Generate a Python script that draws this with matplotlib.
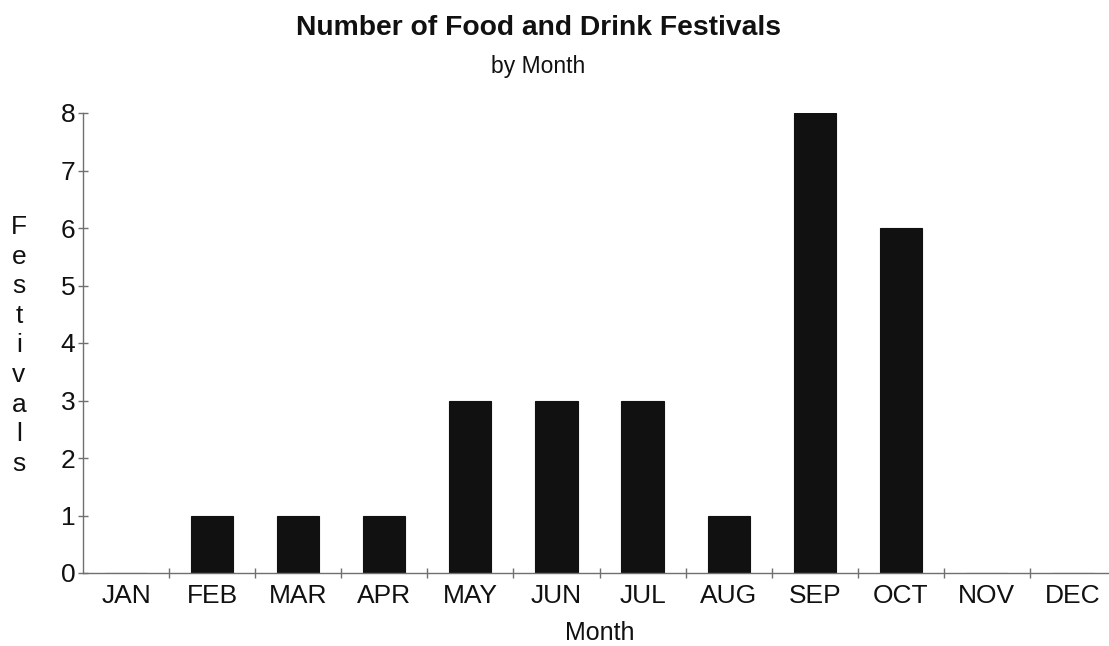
import matplotlib
matplotlib.use("Agg")
import matplotlib.pyplot as plt
import numpy as np

months = ["JAN", "FEB", "MAR", "APR", "MAY", "JUN",
          "JUL", "AUG", "SEP", "OCT", "NOV", "DEC"]
festivals = [0, 1, 1, 1, 3, 3, 3, 1, 8, 6, 0, 0]
y_ticks = [0, 1, 2, 3, 4, 5, 6, 7, 8]

plt.rcParams["font.family"] = ["Liberation Sans", "DejaVu Sans"]

W, H = 1109, 646
fig = plt.figure(figsize=(W / 100, H / 100), dpi=100)
fig.patch.set_facecolor("white")

# the category axis runs a little past the right edge of the figure
left, right, bottom, top = 83 / W, 1116 / W, 1 - 573 / H, 1 - 113 / H
ax = fig.add_axes([left, bottom, right - left, top - bottom])

x = np.arange(len(months))
ax.bar(x, festivals, width=0.49, color="#111111", edgecolor="#111111", linewidth=0.8)

ax.set_xlim(-0.5, len(months) - 0.5)
ax.set_ylim(0, 8)

spine_color = "#707070"
for side in ("top", "right"):
    ax.spines[side].set_visible(False)
for side in ("left", "bottom"):
    ax.spines[side].set_color(spine_color)
    ax.spines[side].set_linewidth(1.0)

ax.set_yticks(y_ticks)
ax.set_yticklabels([str(v) for v in y_ticks], fontsize=19, color="#111111")
ax.tick_params(axis="y", direction="inout", length=7, width=1.0,
               color=spine_color, pad=2)

ax.set_xticks(x)
ax.set_xticklabels(months, fontsize=19, color="#111111")
ax.tick_params(axis="x", which="major", length=0, pad=8)
ax.set_xticks(np.arange(0.5, len(months) - 0.5, 1.0), minor=True)
ax.tick_params(axis="x", which="minor", direction="inout", length=7,
               width=1.0, color=spine_color)

ax.set_xlabel("Month", fontsize=18, color="#111111", labelpad=9)

fig.text(538 / W, 1 - 28 / H, "Number of Food and Drink Festivals",
         ha="center", va="center", fontsize=20.3, fontweight="bold", color="#111111")
fig.text(538 / W, 1 - 66 / H, "by Month",
         ha="center", va="center", fontsize=16.5, color="#111111")

# vertical stacked y-axis label
letters = "Festivals"
y0, step = 227, 29.6
for i, ch in enumerate(letters):
    fig.text(19 / W, 1 - (y0 + i * step) / H, ch, ha="center", va="center",
             fontsize=19, color="#111111")

fig.savefig("out.png", dpi=100, facecolor="white")
